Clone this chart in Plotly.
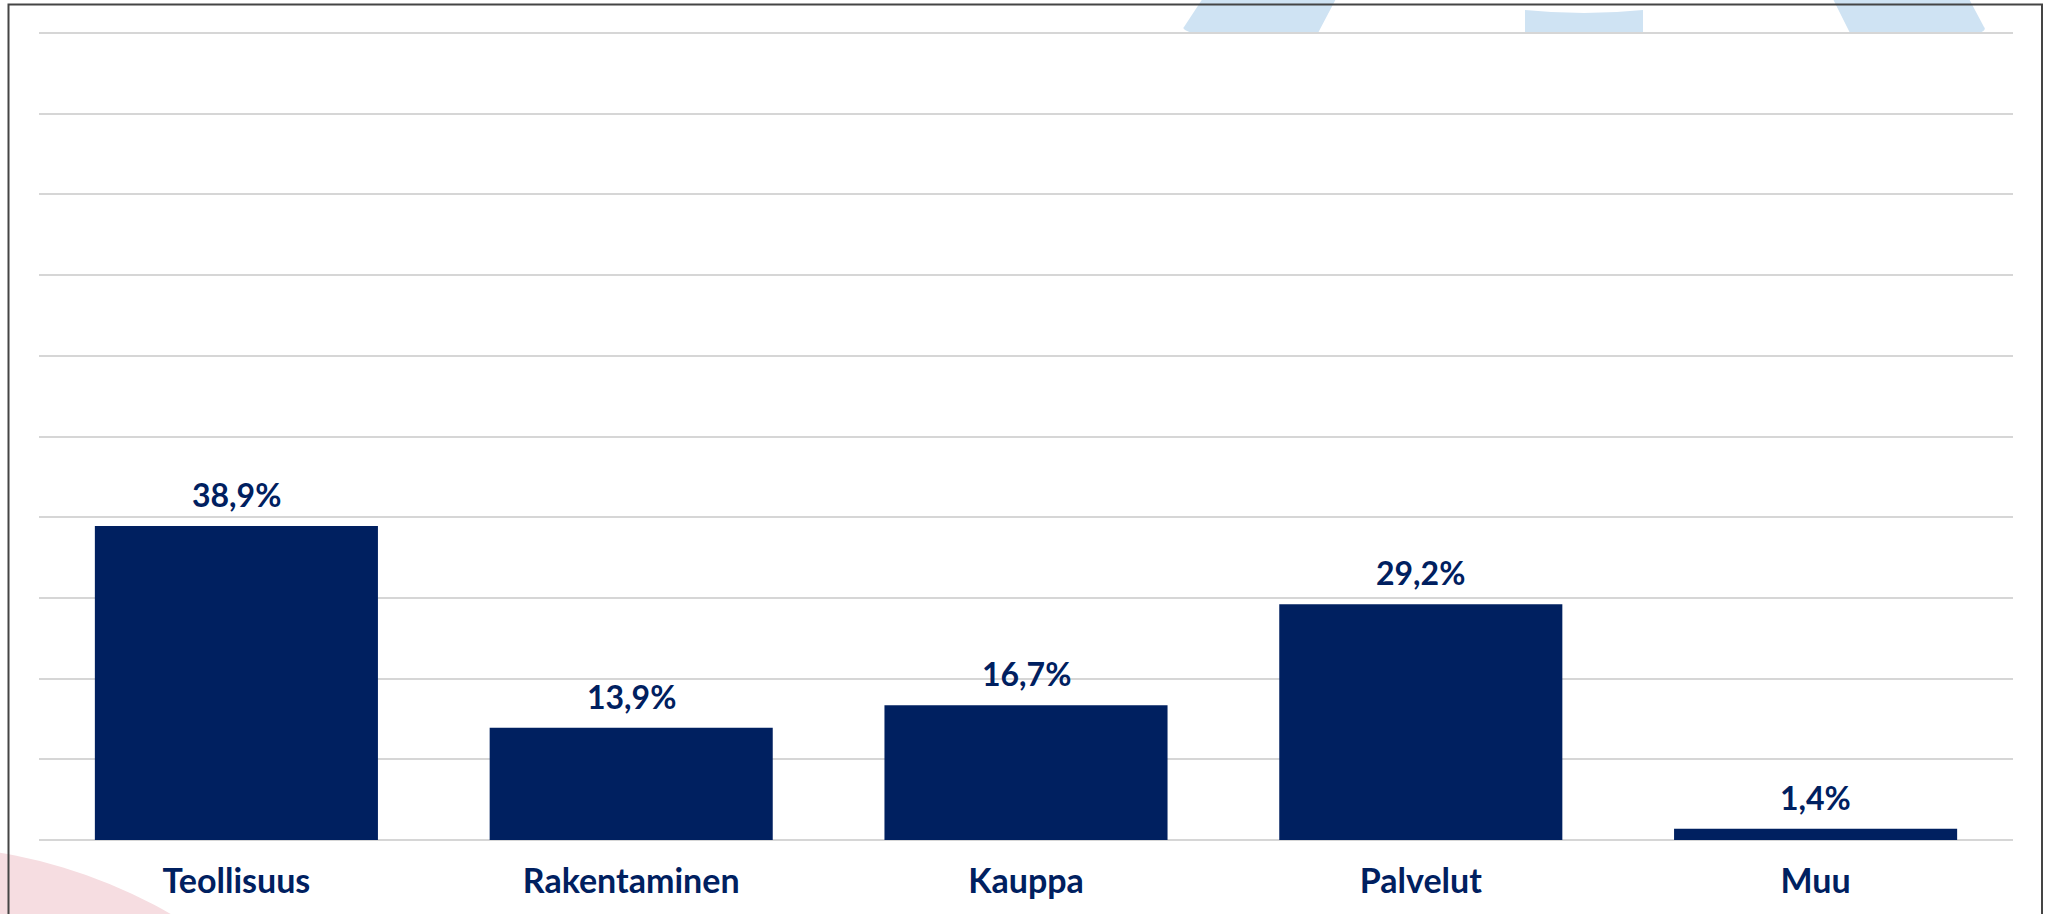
import plotly.graph_objects as go

# ---- data ----
categories = ["Teollisuus", "Rakentaminen", "Kauppa", "Palvelut", "Muu"]
values = [38.9, 13.9, 16.7, 29.2, 1.4]
value_labels = ["38,9%", "13,9%", "16,7%", "29,2%", "1,4%"]
y_ticks = [0, 10, 20, 30, 40, 50, 60, 70, 80, 90, 100]

NAVY = "#002060"
FONT = "Lato"

W, H = 2052, 914
ML, MR, MT, MB = 39, 39, 31, 74
PW = W - ML - MR
PH = H - MT - MB
Y_TOP = 100.25


def px(x):
    return (x - ML) / PW


def py(y):
    return (H - MB - y) / PH


fig = go.Figure()
fig.add_trace(go.Bar(
    x=categories, y=values,
    marker=dict(color=NAVY, line=dict(width=0)),
    hoverinfo="skip",
))

annotations = []
for c, v, t in zip(categories, values, value_labels):
    annotations.append(dict(
        x=c, y=v, xref="x", yref="y", text="<b>%s</b>" % t,
        showarrow=False, yanchor="bottom", yshift=10,
        font=dict(family=FONT, size=32, color=NAVY),
    ))

BLUE = "#CFE3F3"
PINK = "#F6DDE1"
shapes = [
    # decorative shapes
    dict(type="circle", xref="paper", yref="paper",
         x0=px(-586), x1=px(420), y0=py(846), y1=py(1842),
         fillcolor=PINK, line=dict(width=0), layer="below"),
    dict(type="path", xref="paper", yref="paper", layer="below",
         path="M %f %f L %f %f L %f %f L %f %f Q %f %f %f %f Z" % (
             px(1205), py(-5), px(1338), py(-5), px(1318), py(33),
             px(1192), py(33), px(1181), py(29), px(1184), py(27)),
         fillcolor=BLUE, line=dict(width=0)),
    dict(type="path", xref="paper", yref="paper", layer="below",
         path="M %f %f Q %f %f %f %f L %f %f L %f %f Z" % (
             px(1525), py(10), px(1584), py(16), px(1643), py(10),
             px(1643), py(33), px(1525), py(33)),
         fillcolor=BLUE, line=dict(width=0)),
    dict(type="path", xref="paper", yref="paper", layer="below",
         path="M %f %f L %f %f L %f %f Q %f %f %f %f L %f %f Z" % (
             px(1831), py(-5), px(1967), py(-5), px(1984), py(27),
             px(1987), py(30), px(1979), py(33), px(1850), py(33)),
         fillcolor=BLUE, line=dict(width=0)),
    # frame
    dict(type="rect", xref="paper", yref="paper",
         x0=px(8.5), x1=px(2042), y0=py(4.5), y1=py(930),
         line=dict(color="#454545", width=2), fillcolor="rgba(0,0,0,0)",
         layer="above"),
]

fig.update_layout(
    width=W, height=H,
    margin=dict(l=ML, r=MR, t=MT, b=MB, pad=0),
    paper_bgcolor="white", plot_bgcolor="rgba(0,0,0,0)",
    showlegend=False,
    bargap=0.283,
    annotations=annotations,
    shapes=shapes,
    xaxis=dict(
        showgrid=False, zeroline=False, showline=False, ticks="",
        tickfont=dict(family=FONT, size=34, color=NAVY),
        ticklabelstandoff=18,
        tickprefix="<b>", ticksuffix="</b>",
        fixedrange=True,
    ),
    yaxis=dict(
        range=[0, Y_TOP], tickvals=y_ticks, showticklabels=False,
        showgrid=True, gridcolor="#D6D6D6", gridwidth=2,
        zeroline=True, zerolinecolor="#D6D6D6", zerolinewidth=2,
        showline=False, ticks="", fixedrange=True,
    ),
)

fig.write_html(
    "out.html",
    config={"displayModeBar": False},
    post_script="document.body.style.margin='0';document.body.style.overflow='hidden';",
)
